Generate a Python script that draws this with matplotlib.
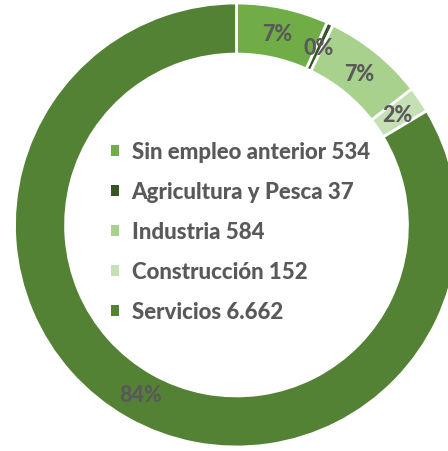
import matplotlib.pyplot as plt
from matplotlib.patches import Patch

labels = ["Sin empleo anterior", "Agricultura y Pesca", "Industria", "Construcción", "Servicios"]
values = [534, 37, 584, 152, 6662]
value_text = ["534", "37", "584", "152", "6.662"]
colors = ["#70AD47", "#375623", "#A9D18E", "#C5E0B4", "#548235"]

plt.rcParams['font.family'] = ['Lato', 'DejaVu Sans']
gray = "#595959"

W, H = 448, 452
cx, cy, R = 236.5, 226, 222

fig = plt.figure(figsize=(W / 100, H / 100), dpi=100)
ax = fig.add_axes([0, 0, 1, 1])

wedges, texts, autotexts = ax.pie(
    values, colors=colors, startangle=90, counterclock=False,
    autopct=lambda p: "{:.0f}%".format(p), pctdistance=0.88,
    wedgeprops=dict(width=0.23, edgecolor="white", linewidth=2),
    textprops=dict(color=gray, fontsize=15.5, fontweight="black"))

ax.set_xlim(-cx / R, (W - cx) / R)
ax.set_ylim(-(H - cy) / R, cy / R)
ax.set_aspect("equal")
ax.axis("off")

handles = [Patch(facecolor=c, edgecolor="none") for c in colors]
leg_labels = [l + " " + v for l, v in zip(labels, value_text)]
leg = ax.legend(handles, leg_labels, loc="upper left",
                bbox_to_anchor=(111 / W, 1 - 142 / H), frameon=False,
                handlelength=0.38, handleheight=0.38, handletextpad=0.55,
                labelspacing=0.86, borderpad=0, borderaxespad=0,
                prop=dict(size=16, weight="black"))
for t in leg.get_texts():
    t.set_color(gray)

fig.savefig("out.png", dpi=100)
